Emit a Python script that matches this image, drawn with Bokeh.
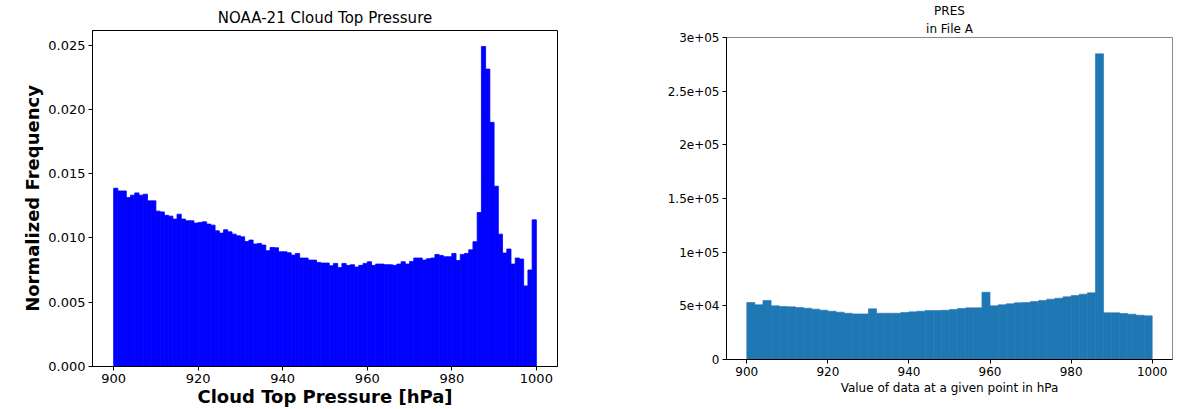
import numpy as np
from bokeh.plotting import figure
from bokeh.layouts import row, column
from bokeh.models import FixedTicker, NumeralTickFormatter, Range1d, Title
from bokeh.embed import file_html
from bokeh.resources import INLINE

# ---------------- data ----------------
left_title = "NOAA-21 Cloud Top Pressure"
left_xlabel = "Cloud Top Pressure [hPa]"
left_ylabel = "Normalized Frequency"
left_bin_start = 900
left_bin_width = 1
left_values = [
    0.01387, 0.01366, 0.01366, 0.01315, 0.01333, 0.01351, 0.01333, 0.01341, 0.01289, 0.01289,
    0.01209, 0.01203, 0.01177, 0.01170, 0.01147, 0.01185, 0.01147, 0.01134, 0.01134, 0.01116,
    0.01121, 0.01126, 0.01108, 0.01100, 0.01056, 0.01038, 0.01064, 0.01048, 0.01030, 0.01017,
    0.01009, 0.00973, 0.00984, 0.00953, 0.00958, 0.00945, 0.00901, 0.00926, 0.00924, 0.00893,
    0.00893, 0.00885, 0.00867, 0.00880, 0.00844, 0.00844, 0.00828, 0.00828, 0.00810, 0.00805,
    0.00805, 0.00784, 0.00802, 0.00771, 0.00802, 0.00787, 0.00792, 0.00774, 0.00787, 0.00802,
    0.00815, 0.00787, 0.00797, 0.00797, 0.00792, 0.00792, 0.00787, 0.00797, 0.00815, 0.00797,
    0.00818, 0.00844, 0.00844, 0.00828, 0.00839, 0.00844, 0.00872, 0.00864, 0.00854, 0.00854,
    0.00880, 0.00825, 0.00872, 0.00880, 0.00908, 0.00971, 0.01198, 0.02490, 0.02314, 0.01900,
    0.01403, 0.01030, 0.00883, 0.00914, 0.00797, 0.00844, 0.00836, 0.00627, 0.00751, 0.01141,
]
left_xticks = [900, 920, 940, 960, 980, 1000]
left_yticks = [0.0, 0.005, 0.010, 0.015, 0.020, 0.025]

right_title_lines = ["PRES", "in File A"]
right_xlabel = "Value of data at a given point in hPa"
right_bin_start = 900
right_bin_width = 2
right_values = [
    53100, 51000, 55000, 50000, 49400, 49100, 48400, 47800, 46900, 45900,
    45000, 44100, 43100, 42500, 42500, 47200, 43100, 43100, 43100, 43800,
    44400, 45000, 45600, 45600, 45900, 46600, 47500, 48100, 48100, 62700,
    50000, 51000, 51900, 52800, 53100, 54000, 55000, 56200, 57100, 58400,
    59600, 60900, 62100, 284800, 43500, 43500, 42900, 42200, 41300, 40700,
]
right_xticks = [900, 920, 940, 960, 980, 1000]
right_yticks = [0, 50000, 100000, 150000, 200000, 250000, 300000]
right_ytick_labels = ["0", "5e+04", "1e+05", "1.5e+05", "2e+05", "2.5e+05", "3e+05"]

FONT = "DejaVu Sans"

# ---------------- left figure ----------------
lv = np.array(left_values)
l_left = left_bin_start + left_bin_width * np.arange(len(lv))
l_right = l_left + left_bin_width

p1 = figure(frame_width=465, frame_height=336, output_backend="svg", toolbar_location=None,
            x_range=Range1d(895, 1005), y_range=Range1d(0, lv.max() * 1.05),
            min_border_left=92, min_border_right=63, min_border_top=30, min_border_bottom=43)
p1.quad(left=l_left, right=l_right, bottom=0, top=lv, fill_color="#0000ff", line_color="#0000ff", line_width=0.8)

p1.title.text = left_title
p1.title.align = "center"
p1.title.text_font = FONT
p1.title.text_font_size = "15px"
p1.title.text_font_style = "normal"
p1.title.text_color = "black"
p1.title.standoff = 8

for ax in (p1.xaxis[0], p1.yaxis[0]):
    ax.axis_line_color = "black"
    ax.major_tick_line_color = "black"
    ax.major_tick_out = 4
    ax.major_tick_in = 0
    ax.minor_tick_line_color = None
    ax.major_label_text_font = FONT
    ax.major_label_text_font_size = "13px"
    ax.major_label_text_color = "black"
    ax.axis_label_text_font = FONT
    ax.axis_label_text_font_size = "18px"
    ax.axis_label_text_font_style = "bold"
    ax.axis_label_text_color = "black"
    ax.major_label_standoff = 3
    ax.axis_label_standoff = 0
p1.yaxis[0].axis_label_standoff = 2
p1.xaxis[0].ticker = FixedTicker(ticks=left_xticks)
p1.yaxis[0].ticker = FixedTicker(ticks=left_yticks)
p1.yaxis[0].formatter = NumeralTickFormatter(format="0.000")
p1.xaxis[0].axis_label = left_xlabel
p1.yaxis[0].axis_label = left_ylabel
p1.xgrid.visible = False
p1.ygrid.visible = False
p1.outline_line_color = "black"
p1.outline_line_alpha = 1

# ---------------- right figure ----------------
rv = np.array(right_values)
r_left = right_bin_start + right_bin_width * np.arange(len(rv))
r_right = r_left + right_bin_width

p2 = figure(frame_width=446, frame_height=322, output_backend="svg", toolbar_location=None,
            x_range=Range1d(895, 1005), y_range=Range1d(0, right_yticks[-1]),
            min_border_left=106, min_border_right=6, min_border_top=37, min_border_bottom=50)
p2.quad(left=r_left, right=r_right, bottom=0, top=rv, fill_color="#1f77b4",
        line_color="#1f77b4", line_width=0.6)

# default title is the outermost line; the added one sits closer to the frame
p2.title.text = right_title_lines[0]
p2.title.align = "center"
p2.title.text_font = FONT
p2.title.text_font_size = "12px"
p2.title.text_font_style = "normal"
p2.title.text_color = "black"
p2.title.standoff = 0
p2.add_layout(Title(text=right_title_lines[1], align="center", text_font=FONT, text_font_size="12px",
                    text_font_style="normal", text_color="black", standoff=4), "above")

for ax in (p2.xaxis[0], p2.yaxis[0]):
    ax.axis_line_color = "black"
    ax.major_tick_line_color = "black"
    ax.major_tick_out = 4
    ax.major_tick_in = 0
    ax.minor_tick_line_color = None
    ax.major_label_text_font = FONT
    ax.major_label_text_font_size = "12px"
    ax.major_label_text_color = "black"
    ax.axis_label_text_font = FONT
    ax.axis_label_text_font_size = "12px"
    ax.axis_label_text_font_style = "normal"
    ax.axis_label_text_color = "black"
    ax.major_label_standoff = 3
    ax.axis_label_standoff = 2
p2.xaxis[0].ticker = FixedTicker(ticks=right_xticks)
p2.yaxis[0].ticker = FixedTicker(ticks=right_yticks)
p2.yaxis[0].major_label_overrides = {t: s for t, s in zip(right_yticks, right_ytick_labels)}
p2.xaxis[0].axis_label = right_xlabel
p2.xgrid.visible = False
p2.ygrid.visible = False
p2.outline_line_color = "#888888"

layout = row(column(p1), column(p2))
open("out.html", "w").write(file_html(layout, INLINE))
